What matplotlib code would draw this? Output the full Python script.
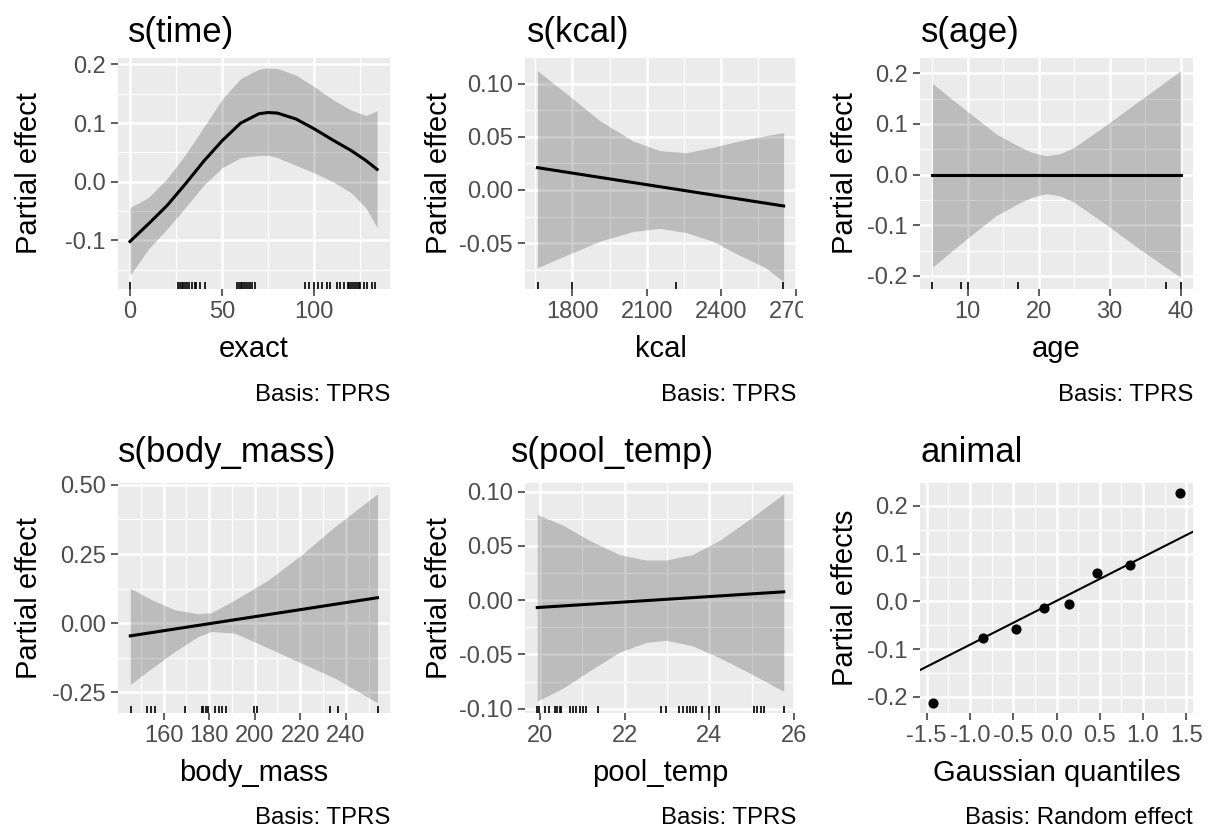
import matplotlib
matplotlib.use("Agg")
import matplotlib.pyplot as plt
import numpy as np
from matplotlib.transforms import Bbox, TransformedBbox

W, H = 1211, 827

# ---- s(time) ----
time_x = [0, 10, 20, 30, 40, 50, 60, 70, 75, 80, 90, 100, 110, 120, 128, 134]
time_fit = [-0.102, -0.072, -0.041, -0.004, 0.035, 0.070, 0.100, 0.116, 0.118,
            0.117, 0.107, 0.090, 0.071, 0.053, 0.036, 0.021]
time_upper = [-0.044, -0.027, 0.005, 0.046, 0.093, 0.141, 0.176, 0.192, 0.194,
              0.193, 0.182, 0.162, 0.140, 0.122, 0.113, 0.121]
time_lower = [-0.160, -0.115, -0.081, -0.044, -0.006, 0.024, 0.041, 0.045, 0.045,
              0.041, 0.028, 0.015, 0.000, -0.019, -0.045, -0.078]
time_rug = [0, 26.3, 27, 28, 29, 30, 31, 32, 33.5, 35, 36, 38, 40.8,
            58, 59, 60, 61, 62, 63, 64, 65, 66, 67.9,
            95, 97, 99.6, 102, 104, 107, 108.7,
            112.3, 114, 116, 118, 119, 120, 121, 122, 123, 124, 125, 126.8,
            128.6, 131, 133]

# ---- s(kcal) ----
kcal_x = [1659, 1779, 1912, 2045, 2152, 2259, 2365, 2472, 2579, 2652]
kcal_upper = [0.112, 0.090, 0.065, 0.046, 0.037, 0.035, 0.040, 0.046, 0.051, 0.054]
kcal_lower = [-0.073, -0.061, -0.048, -0.039, -0.036, -0.040, -0.048, -0.061, -0.073, -0.086]
kcal_fit_x = [1659, 2652]
kcal_fit = [0.021, -0.015]
kcal_rug = [1660, 1800, 2220, 2650]

# ---- s(age) ----
age_x = [5, 8, 11, 14, 17, 19, 21, 23, 25, 28, 31, 34, 37, 40]
age_upper = [0.180, 0.146, 0.113, 0.080, 0.057, 0.044, 0.037, 0.041, 0.054, 0.083,
             0.113, 0.144, 0.174, 0.205]
age_lower = [-0.183, -0.148, -0.114, -0.081, -0.058, -0.045, -0.038, -0.042, -0.055,
             -0.084, -0.114, -0.145, -0.174, -0.203]
age_fit_x = [5, 40]
age_fit = [0.0, 0.0]
age_rug = [5, 9, 10, 17, 38, 40]

# ---- s(body_mass) ----
mass_x = [145.4, 155, 165, 175.3, 181, 191.3, 205.9, 220.4, 235, 253.9]
mass_upper = [0.126, 0.084, 0.048, 0.034, 0.038, 0.084, 0.156, 0.246, 0.348, 0.468]
mass_lower = [-0.222, -0.162, -0.102, -0.048, -0.030, -0.036, -0.090, -0.144, -0.198, -0.288]
mass_fit_x = [145.4, 253.9]
mass_fit = [-0.046, 0.092]
mass_rug = [145.9, 152.7, 154.6, 156.4, 169.2, 176.7, 177.5, 178.5, 179.7, 182.6,
            184.3, 185.8, 187.2, 199.7, 201.1, 233.2, 236.7, 254.2]

# ---- s(pool_temp) ----
pool_x = [19.94, 20.55, 21.18, 21.88, 22.5, 22.98, 23.6, 24.24, 25.0, 25.76]
pool_upper = [0.079, 0.069, 0.055, 0.042, 0.037, 0.037, 0.042, 0.055, 0.076, 0.098]
pool_lower = [-0.093, -0.081, -0.065, -0.048, -0.039, -0.037, -0.042, -0.053, -0.068, -0.084]
pool_fit_x = [19.94, 25.76]
pool_fit = [-0.0068, 0.0077]
pool_rug = [19.94, 19.98, 20.12, 20.22, 20.35, 20.41, 20.47, 20.51, 20.71, 20.78,
            20.86, 20.94, 21.02, 21.1, 21.37, 22.86, 22.98, 23.29, 23.39, 23.47,
            23.55, 23.62, 23.7, 23.83, 24.0, 24.17, 24.24, 25.06, 25.14, 25.22,
            25.29, 25.76]

# ---- animal (random effect QQ) ----
animal_q = [-1.43, -0.85, -0.47, -0.15, 0.15, 0.47, 0.85, 1.43]
animal_eff = [-0.212, -0.076, -0.057, -0.014, -0.006, 0.060, 0.076, 0.226]
qq_intercept = 0.001
qq_slope = 0.092

plt.rcParams["font.family"] = ["Liberation Sans", "DejaVu Sans"]

BG = "#EBEBEB"
TICK_COL = "#333333"
LAB_COL = "#4D4D4D"
TITLE_SIZE = 25
AXIS_SIZE = 21
TICK_SIZE = 17
CAP_SIZE = 17.3

fig = plt.figure(figsize=(W / 100, H / 100), dpi=100)


def fx(px):
    return px / W


def fy(py):
    return 1 - py / H


def minor_between(ticks, lim):
    step = ticks[1] - ticks[0]
    cand = np.arange(ticks[0] - step / 2, ticks[-1] + step, step)
    return [c for c in cand if lim[0] <= c <= lim[1]]


def panel(box, xlim, ylim, xticks, yticks, xlabels=None, ylabels=None):
    left, top, right, bottom = box
    ax = fig.add_axes([fx(left), fy(bottom), (right - left) / W, (bottom - top) / H])
    ax.set_facecolor(BG)
    for sp in ax.spines.values():
        sp.set_visible(False)
    ax.set_xlim(xlim)
    ax.set_ylim(ylim)
    ax.set_xticks(xticks, xlabels)
    ax.set_yticks(yticks, ylabels)
    ax.set_xticks(minor_between(xticks, xlim), minor=True)
    ax.set_yticks(minor_between(yticks, ylim), minor=True)
    ax.grid(which="major", color="white", lw=1.8)
    ax.grid(which="minor", color="white", lw=0.9)
    ax.set_axisbelow(True)
    ax.tick_params(which="minor", length=0)
    ax.tick_params(which="major", length=5, width=1.1, color=TICK_COL,
                   labelcolor=LAB_COL, labelsize=TICK_SIZE, pad=3.8)
    return ax


def texts(box, title, title_px, title_base, xlabel, xlab_base, ylabel, ylab_base,
          caption, cap_base):
    left, top, right, bottom = box
    fig.text(fx(title_px), fy(title_base), title, fontsize=TITLE_SIZE,
             ha="left", va="baseline", color="black")
    fig.text(fx((left + right) / 2), fy(xlab_base), xlabel, fontsize=AXIS_SIZE,
             ha="center", va="baseline", color="black")
    fig.text(fx(ylab_base), fy((top + bottom) / 2), ylabel, fontsize=AXIS_SIZE,
             rotation=90, rotation_mode="anchor", ha="center", va="baseline",
             color="black")
    fig.text(fx(right), fy(cap_base), caption, fontsize=CAP_SIZE,
             ha="right", va="baseline", color="black")


def smooth(ax, x, lower, upper, fit_x, fit, rug):
    ax.fill_between(x, lower, upper, color="black", alpha=0.2, lw=0, zorder=2)
    ax.plot(fit_x, fit, color="black", lw=2.2, zorder=3)
    ax.vlines(rug, 0, 0.032, transform=ax.get_xaxis_transform(),
              color="black", lw=1.2, zorder=4)


# layout boxes (left, top, right, bottom) in pixels
row1 = (58, 289)
row2 = (483, 713)
col1 = (118, 390)
col2 = (525, 796)
col3 = (920, 1193)

b1 = (col1[0], row1[0], col1[1], row1[1])
b2 = (col2[0], row1[0], col2[1], row1[1])
b3 = (col3[0], row1[0], col3[1], row1[1])
b4 = (col1[0], row2[0], col1[1], row2[1])
b5 = (col2[0], row2[0], col2[1], row2[1])
b6 = (col3[0], row2[0], col3[1], row2[1])

# s(time)
ax1 = panel(b1, (-6.5, 141), (-0.183, 0.211), [0, 50, 100], [-0.1, 0.0, 0.1, 0.2],
            ["0", "50", "100"], ["-0.1", "0.0", "0.1", "0.2"])
smooth(ax1, time_x, time_lower, time_upper, time_x, time_fit, time_rug)
texts(b1, "s(time)", 128, 42, "exact", 357, "Partial effect", 37, "Basis: TPRS", 401)

# s(kcal)
ax2 = panel(b2, (1609, 2702), (-0.093, 0.124), [1800, 2100, 2400, 2700],
            [-0.05, 0.0, 0.05, 0.10], ["1800", "2100", "2400", "2700"],
            ["-0.05", "0.00", "0.05", "0.10"])
smooth(ax2, kcal_x, kcal_lower, kcal_upper, kcal_fit_x, kcal_fit, kcal_rug)
texts(b2, "s(kcal)", 527, 42, "kcal", 357, "Partial effect", 447, "Basis: TPRS", 401)
clip = TransformedBbox(Bbox.from_extents(0, 0, fx(803), 1), fig.transFigure)
for lbl in ax2.get_xticklabels():
    lbl.set_clip_box(clip)
    lbl.set_clip_on(True)

# s(age)
ax3 = panel(b3, (3.25, 41.75), (-0.226, 0.23), [10, 20, 30, 40],
            [-0.2, -0.1, 0.0, 0.1, 0.2], ["10", "20", "30", "40"],
            ["-0.2", "-0.1", "0.0", "0.1", "0.2"])
smooth(ax3, age_x, age_lower, age_upper, age_fit_x, age_fit, age_rug)
texts(b3, "s(age)", 921, 42, "age", 357, "Partial effect", 853, "Basis: TPRS", 401)

# s(body_mass)
ax4 = panel(b4, (140, 259.4), (-0.325, 0.507), [160, 180, 200, 220, 240],
            [-0.25, 0.0, 0.25, 0.50], ["160", "180", "200", "220", "240"],
            ["-0.25", "0.00", "0.25", "0.50"])
smooth(ax4, mass_x, mass_lower, mass_upper, mass_fit_x, mass_fit, mass_rug)
texts(b4, "s(body_mass)", 118, 462, "body_mass", 781, "Partial effect", 37,
      "Basis: TPRS", 824)

# s(pool_temp)
ax5 = panel(b5, (19.65, 26.05), (-0.104, 0.108), [20, 22, 24, 26],
            [-0.10, -0.05, 0.0, 0.05, 0.10], ["20", "22", "24", "26"],
            ["-0.10", "-0.05", "0.00", "0.05", "0.10"])
smooth(ax5, pool_x, pool_lower, pool_upper, pool_fit_x, pool_fit, pool_rug)
texts(b5, "s(pool_temp)", 511, 462, "pool_temp", 781, "Partial effect", 447,
      "Basis: TPRS", 824)

# animal
ax6 = panel(b6, (-1.576, 1.576), (-0.234, 0.248),
            [-1.5, -1.0, -0.5, 0.0, 0.5, 1.0, 1.5], [-0.2, -0.1, 0.0, 0.1, 0.2],
            ["-1.5", "-1.0", "-0.5", "0.0", "0.5", "1.0", "1.5"],
            ["-0.2", "-0.1", "0.0", "0.1", "0.2"])
ax6.axline((0, qq_intercept), slope=qq_slope, color="black", lw=1.5, zorder=3)
ax6.plot(animal_q, animal_eff, "o", color="black", ms=6.3, zorder=4)
texts(b6, "animal", 921, 462, "Gaussian quantiles", 781, "Partial effects", 853,
      "Basis: Random effect", 824)

fig.savefig("out.png", dpi=100, facecolor="white")
